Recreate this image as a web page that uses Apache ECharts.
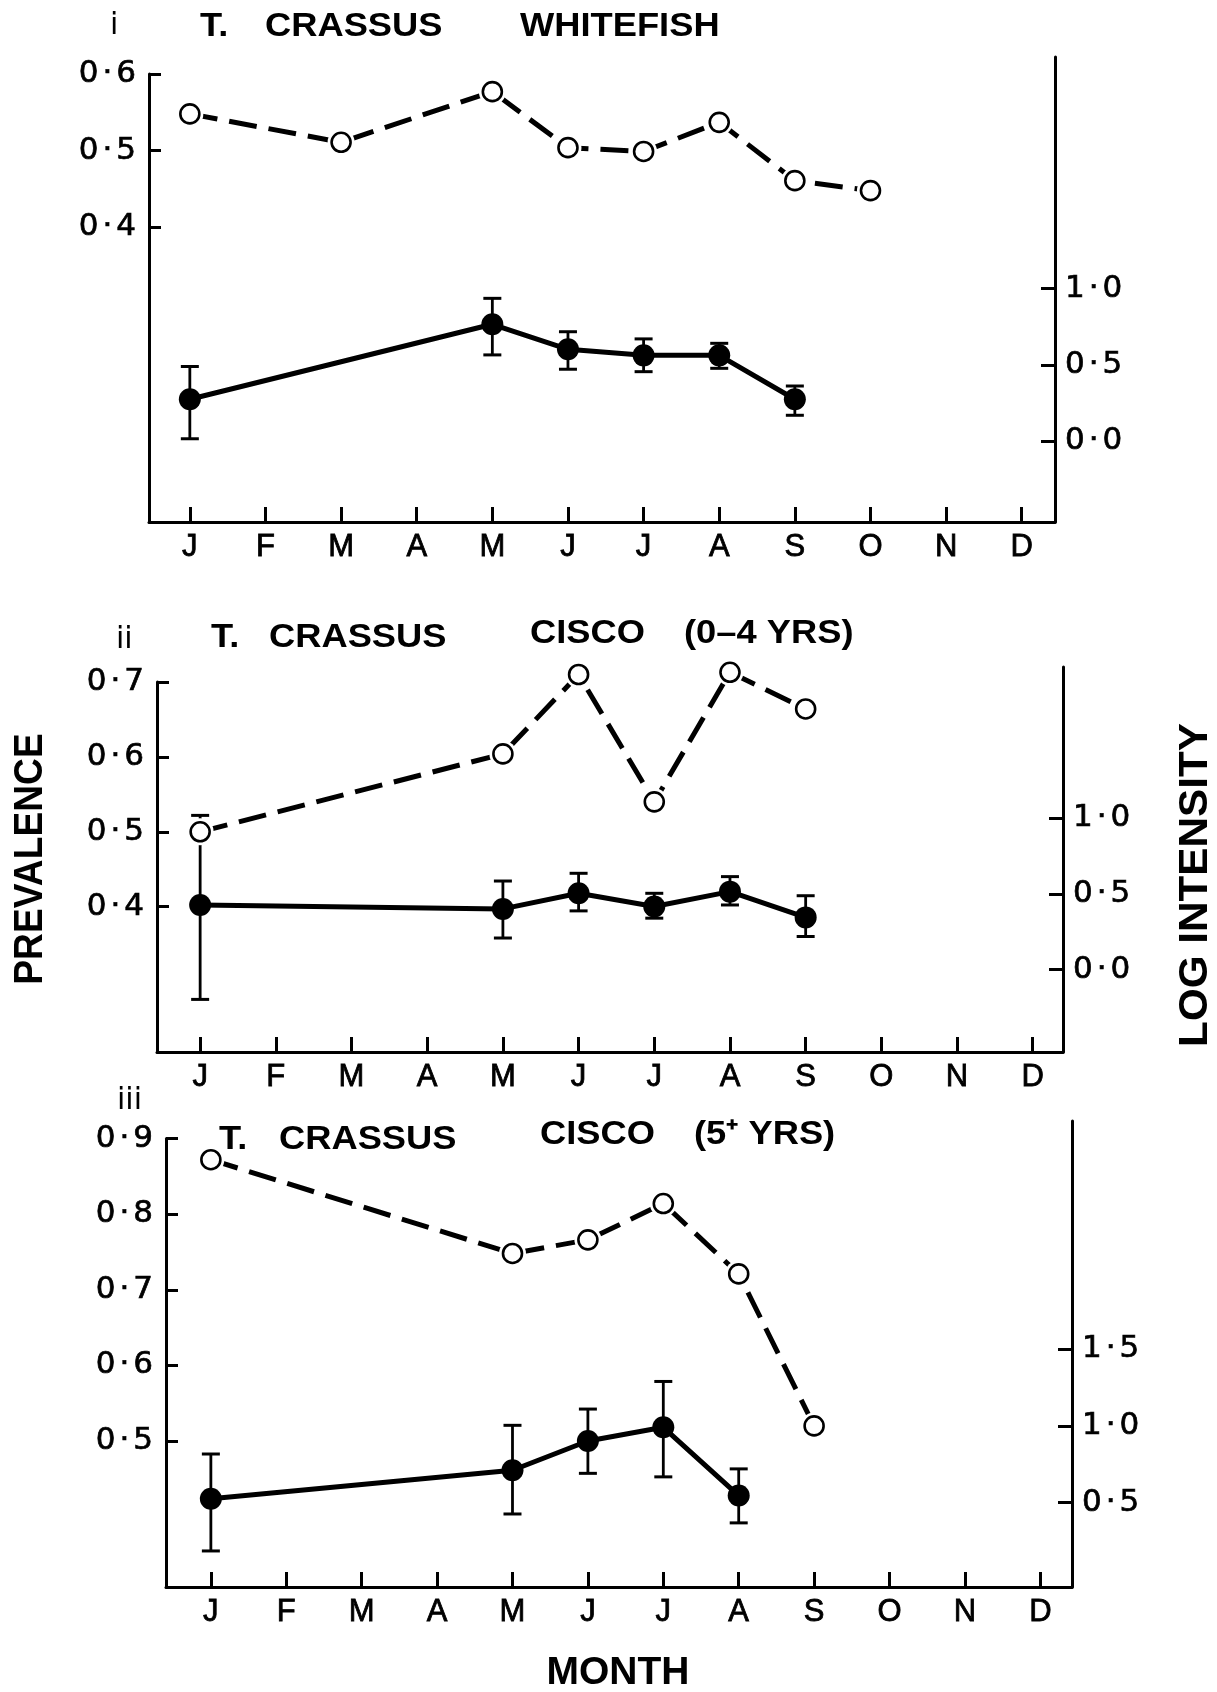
<!DOCTYPE html>
<html>
<head>
<meta charset="utf-8">
<script src="https://cdn.jsdelivr.net/npm/echarts@6/dist/echarts.min.js"></script>
<style>
html,body{margin:0;padding:0;background:#fff;}
#chart{width:1217px;height:1692px;}
</style>
</head>
<body>
<div id="chart"></div>
<script>
// ---------- data ----------
const monthLetters = ['J','F','M','A','M','J','J','A','S','O','N','D'];
const monthTicks = [0,1,2,3,4,5,6,7,8,9,10,11];

// Panel i : whitefish
const wfPrevMonths = [0,2,4,5,6,7,8,9];
const wfPrevalence = [0.548,0.511,0.577,0.504,0.499,0.537,0.461,0.448];
const wfIntMonths = [0,4,5,6,7,8];
const wfIntensity = [0.275,0.767,0.603,0.563,0.563,0.275];
const wfIntLow    = [0.016,0.566,0.472,0.456,0.478,0.170];
const wfIntHigh   = [0.490,0.937,0.718,0.671,0.642,0.362];
const wfLeftTicks = [0.4,0.5,0.6];
const wfRightTicks = [0.0,0.5,1.0];

// Panel ii : cisco 0-4 yrs
const c04PrevMonths = [0,4,5,6,7,8];
const c04Prevalence = [0.500,0.604,0.710,0.540,0.713,0.664];
const c04IntMonths = [0,4,5,6,7,8];
const c04Intensity = [0.426,0.400,0.503,0.416,0.514,0.344];
const c04IntLow    = [-0.197,0.208,0.387,0.339,0.426,0.218];
const c04IntHigh   = [1.017,0.584,0.635,0.503,0.613,0.487];
const c04LeftTicks = [0.4,0.5,0.6,0.7];
const c04RightTicks = [0.0,0.5,1.0];

// Panel iii : cisco 5+ yrs
const c5PrevMonths = [0,4,5,6,7,8];
const c5Prevalence = [0.872,0.748,0.766,0.814,0.721,0.520];
const c5IntMonths = [0,4,5,6,7];
const c5Intensity = [0.525,0.711,0.902,0.991,0.546];
const c5IntLow    = [0.185,0.426,0.691,0.668,0.368];
const c5IntHigh   = [0.817,1.004,1.110,1.290,0.720];
const c5LeftTicks = [0.5,0.6,0.7,0.8,0.9];
const c5RightTicks = [0.5,1.0,1.5];

// ---------- layout (pixels / axis ranges) ----------
const FONT = "'Liberation Sans', Arial, sans-serif";
const NUMFONT = "'DejaVu Sans', 'Liberation Sans', sans-serif";
const panels = [
  {left:149,right:1055,topL:74,topR:57,bottom:522,xMin:-0.54,xMax:11.44,lMin:0.016,lMax:0.6,rMin:-0.53,rMax:2.52,
   prevM:wfPrevMonths,prev:wfPrevalence,intM:wfIntMonths,int:wfIntensity,lo:wfIntLow,hi:wfIntHigh,lt:wfLeftTicks,rt:wfRightTicks},
  {left:157,right:1063,topL:682,topR:667,bottom:1052,xMin:-0.57,xMax:11.40,lMin:0.206,lMax:0.7,rMin:-0.544,rMax:1.996,
   prevM:c04PrevMonths,prev:c04Prevalence,intM:c04IntMonths,int:c04Intensity,lo:c04IntLow,hi:c04IntHigh,lt:c04LeftTicks,rt:c04RightTicks},
  {left:166,right:1072,topL:1138.5,topR:1121,bottom:1587,xMin:-0.595,xMax:11.42,lMin:0.307,lMax:0.9,rMin:-0.05,rMax:2.988,
   prevM:c5PrevMonths,prev:c5Prevalence,intM:c5IntMonths,int:c5Intensity,lo:c5IntLow,hi:c5IntHigh,lt:c5LeftTicks,rt:c5RightTicks}
];

const numRich = {
  n:{fontFamily:NUMFONT, fontSize:31, color:'#000', textBorderColor:'#000', textBorderWidth:0.7},
  d:{fontFamily:NUMFONT, fontSize:31, color:'#000', textBorderColor:'#000', textBorderWidth:0.7, padding:[0,4,0,4]}
};
const fmtNum = v => { const s = v.toFixed(1).split('.'); return '{n|' + s[0] + '}{d|\u00B7}{n|' + s[1] + '}'; };
const grids=[], xAxes=[], yAxes=[], series=[];

panels.forEach((p, i) => {
  const gL = grids.length;
  grids.push({left:p.left, top:p.topL, width:p.right-p.left, height:p.bottom-p.topL, containLabel:false, outerBoundsMode:'none'});
  grids.push({left:p.left, top:p.topR, width:p.right-p.left, height:p.bottom-p.topR, containLabel:false, outerBoundsMode:'none'});
  xAxes.push({
    type:'value', gridIndex:gL, min:p.xMin, max:p.xMax,
    axisLine:{show:true, onZero:false, lineStyle:{color:'#000', width:3}},
    axisTick:{show:true, inside:true, length:15, customValues:monthTicks, lineStyle:{color:'#000', width:3}},
    axisLabel:{show:true, customValues:monthTicks, margin:10, color:'#000', fontFamily:FONT, fontWeight:'normal', fontSize:31,
      textBorderColor:'#000', textBorderWidth:0.8,
      formatter: v => monthLetters[Math.round(v)]},
    splitLine:{show:false}
  });
  xAxes.push({type:'value', gridIndex:gL+1, min:p.xMin, max:p.xMax, show:false, splitLine:{show:false}});
  yAxes.push({
    type:'value', gridIndex:gL, min:p.lMin, max:p.lMax, position:'left',
    axisLine:{show:true, onZero:false, lineStyle:{color:'#000', width:3}},
    axisTick:{show:true, inside:true, length:12, customValues:p.lt, lineStyle:{color:'#000', width:3}},
    axisLabel:{show:true, customValues:p.lt, margin:13, color:'#000', fontFamily:NUMFONT, fontSize:31, formatter:fmtNum, rich:numRich},
    splitLine:{show:false}
  });
  yAxes.push({
    type:'value', gridIndex:gL+1, min:p.rMin, max:p.rMax, position:'right',
    axisLine:{show:true, onZero:false, lineStyle:{color:'#000', width:3}},
    axisTick:{show:true, inside:true, length:14, customValues:p.rt, lineStyle:{color:'#000', width:3}},
    axisLabel:{show:true, customValues:p.rt, margin:10, color:'#000', fontFamily:NUMFONT, fontSize:31, formatter:fmtNum, rich:numRich},
    splitLine:{show:false}
  });
  const errData = p.intM.map((m, k) => [m, p.lo[k], p.hi[k]]);
  series.push({
    type:'custom', xAxisIndex:gL+1, yAxisIndex:gL+1, data:errData, z:2, silent:true, clip:false,
    renderItem:(params, api) => {
      const x = api.value(0);
      const a = api.coord([x, api.value(1)]);
      const b = api.coord([x, api.value(2)]);
      const hw = 9;
      return {type:'group', children:[
        {type:'line', shape:{x1:a[0], y1:a[1], x2:b[0], y2:b[1]}, style:{stroke:'#000', lineWidth:2.8}},
        {type:'line', shape:{x1:a[0]-hw, y1:a[1], x2:a[0]+hw, y2:a[1]}, style:{stroke:'#000', lineWidth:3}},
        {type:'line', shape:{x1:b[0]-hw, y1:b[1], x2:b[0]+hw, y2:b[1]}, style:{stroke:'#000', lineWidth:3}}
      ]};
    }
  });
  series.push({
    type:'line', xAxisIndex:gL+1, yAxisIndex:gL+1, z:3, clip:false,
    data:p.intM.map((m, k) => [m, p.int[k]]),
    symbol:'circle', symbolSize:22, itemStyle:{color:'#000'},
    lineStyle:{color:'#000', width:5, type:'solid'}
  });
  const prevData = p.prevM.map((m, k) => [m, p.prev[k]]);
  series.push({
    type:'line', xAxisIndex:gL, yAxisIndex:gL, z:4, clip:false,
    data:prevData, showSymbol:false, symbol:'none',
    lineStyle:{color:'#000', width:5, type:[28,12]}
  });
  // white halo so the dashed line stops short of each open circle
  series.push({
    type:'scatter', xAxisIndex:gL, yAxisIndex:gL, z:5, clip:false, silent:true,
    data:prevData, symbol:'circle', symbolSize:27, itemStyle:{color:'#fff', opacity:1}
  });
  series.push({
    type:'scatter', xAxisIndex:gL, yAxisIndex:gL, z:6, clip:false,
    data:prevData, symbol:'circle', symbolSize:19, itemStyle:{color:'#fff', borderColor:'#000', borderWidth:2.6, opacity:1}
  });
});

function txt(x, y, text, size, opts) {
  opts = opts || {};
  return {type:'text', x:x, y:y, rotation:opts.rot || 0, scaleX:opts.sx || 1, z:10,
    style:{text:text, fill:'#000', font:(opts.weight || 'bold') + ' ' + size + 'px ' + (opts.font || FONT),
      align:opts.align || 'left', verticalAlign:'middle'}};
}
const TS = 1.1;
const graphics = [
  txt(110, 26, 'i', 30, {weight:'normal', font:NUMFONT}),
  txt(200, 27, 'T.', 33, {sx:TS}),
  txt(265, 27, 'CRASSUS', 33, {sx:TS}),
  txt(520, 27, 'WHITEFISH', 33, {sx:TS}),
  txt(116, 640, 'ii', 30, {weight:'normal', font:NUMFONT}),
  txt(211, 638, 'T.', 33, {sx:TS}),
  txt(269, 638, 'CRASSUS', 33, {sx:TS}),
  txt(530, 634, 'CISCO', 33, {sx:TS}),
  txt(684, 634, '(0\u20134 YRS)', 33, {sx:TS}),
  txt(117, 1101, 'iii', 30, {weight:'normal', font:NUMFONT}),
  txt(219, 1140, 'T.', 33, {sx:TS}),
  txt(279, 1140, 'CRASSUS', 33, {sx:TS}),
  txt(540, 1135, 'CISCO', 33, {sx:TS}),
  txt(694, 1135, '(5\u207A YRS)', 33, {sx:TS}),
  txt(31, 859, 'PREVALENCE', 40, {rot:Math.PI/2, align:'center', sx:0.93}),
  txt(1196, 885, 'LOG INTENSITY', 41, {rot:Math.PI/2, align:'center', sx:1.03}),
  txt(618, 1673, 'MONTH', 39, {align:'center'})
];

const chart = echarts.init(document.getElementById('chart'), null, {renderer:'canvas'});
chart.setOption({
  backgroundColor:'#fff',
  animation:false,
  grid:grids, xAxis:xAxes, yAxis:yAxes, series:series,
  graphic:graphics
});
</script>
</body>
</html>
